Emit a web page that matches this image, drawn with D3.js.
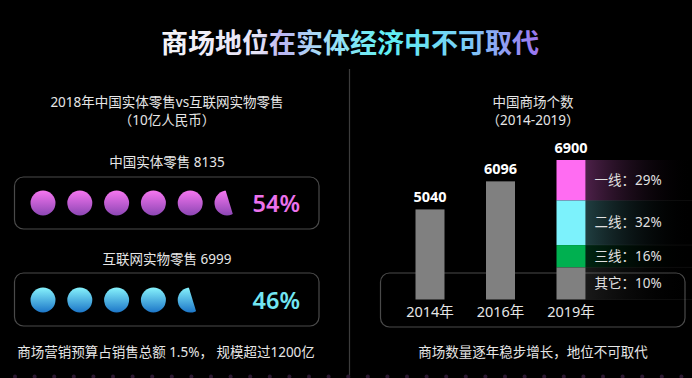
<!DOCTYPE html>
<html><head><meta charset="utf-8">
<script src="https://cdn.jsdelivr.net/npm/d3@7"></script>
<style>
html,body{margin:0;padding:0;background:#000;}
svg{display:block;}
text{font-family:"Noto Sans","Noto Sans CJK SC",sans-serif;}
</style></head>
<body><svg id="c" width="692" height="378"></svg>
<script>
// ---- data ----
const title = "商场地位在实体经济中不可取代";
const leftTitle = ["2018年中国实体零售vs互联网实物零售", "（10亿人民币）"];
const retailNames = ["中国实体零售", "互联网实物零售"];
const retailValues = [8135, 6999];
const retailPct = [54, 46];
const leftNote = "商场营销预算占销售总额 1.5%， 规模超过1200亿";

const rightTitle = ["中国商场个数", "（2014-2019）"];
const years = ["2014年", "2016年", "2019年"];
const mallCounts = [5040, 6096, 6900];
const tierNames = ["一线", "二线", "三线", "其它"];
const tierPct = [29, 32, 16, 10];
const rightNote = "商场数量逐年稳步增长，地位不可取代";

// ---- setup ----
const svg = d3.select("#c");
svg.append("rect").attr("width", 692).attr("height", 378).attr("fill", "#000");
const defs = svg.append("defs");

const tg = defs.append("linearGradient").attr("id", "tg")
  .attr("gradientUnits", "userSpaceOnUse").attr("x1", 162).attr("x2", 538).attr("y1", 0).attr("y2", 0);
[[0, "#f6f6f8"], [0.26, "#e6e2f6"], [0.32, "#bab4f2"], [0.42, "#a8dcf6"], [0.6, "#5ef0f2"], [0.8, "#78d0f6"], [0.9, "#90a4f4"], [1, "#9a74f0"]]
  .forEach(([o, c]) => tg.append("stop").attr("offset", o).attr("stop-color", c));

function vgrad(id, c1, c2) {
  const g = defs.append("linearGradient").attr("id", id).attr("x1", 0).attr("x2", 0).attr("y1", 0).attr("y2", 1);
  g.append("stop").attr("offset", 0).attr("stop-color", c1);
  g.append("stop").attr("offset", 1).attr("stop-color", c2);
}
vgrad("gp", "#f676f0", "#8c46b4");
vgrad("gc", "#86f2fc", "#1c76c8");

// title
svg.append("text").attr("x", 350).attr("y", 53).attr("text-anchor", "middle")
  .attr("font-size", 27).attr("font-weight", "bold").attr("fill", "url(#tg)").text(title);

// divider
svg.append("line").attr("x1", 349.5).attr("x2", 349.5).attr("y1", 69).attr("y2", 378)
  .attr("stroke", "#3c3c3c").attr("stroke-width", 1.2);

// bottom faint dots
const dotX = d3.range(15, 692, 19.6);
svg.append("g").selectAll("circle").data(dotX).join("circle")
  .attr("cx", d => d).attr("cy", 376.5).attr("r", 2).attr("fill", "#2a1830");

const txt = (x, y, s, size, fill) => svg.append("text").attr("x", x).attr("y", y)
  .attr("text-anchor", "middle").attr("font-size", size).attr("fill", fill).text(s);

// ---- left panel ----
txt(167, 107, leftTitle[0], 13.5, "#e6e6e6");
txt(167, 125, leftTitle[1], 13.5, "#e6e6e6");

const rowY = [203, 300];
const labelY = [167, 264];
const boxes = [[177, 229], [273, 326]];
const grads = ["url(#gp)", "url(#gc)"];
const pctColors = ["#ec72ec", "#72e6f2"];
const cx = d3.scaleLinear().domain([0, 5]).range([43, 227]);
const r = 12.5;

function chordOffset(f) {
  let lo = -1, hi = 1;
  for (let i = 0; i < 40; i++) {
    const m = (lo + hi) / 2;
    const a = 1 - (Math.acos(m) - m * Math.sqrt(1 - m * m)) / Math.PI;
    if (a < f) lo = m; else hi = m;
  }
  return (lo + hi) / 2 * r;
}

retailNames.forEach((name, i) => {
  txt(167, labelY[i], name + " " + retailValues[i], 13.5, "#e6e6e6");
  svg.append("rect").attr("x", 14.5).attr("y", boxes[i][0]).attr("width", 304.5)
    .attr("height", boxes[i][1] - boxes[i][0]).attr("rx", 9)
    .attr("fill", "none").attr("stroke", "#4a4a4a").attr("stroke-width", 1.2);
  const units = retailPct[i] / 10;
  const full = Math.floor(units);
  const frac = units - full;
  const g = svg.append("g");
  g.selectAll("circle").data(d3.range(full)).join("circle")
    .attr("cx", d => cx(d)).attr("cy", rowY[i]).attr("r", r).attr("fill", grads[i]);
  if (frac > 0) {
    const x0 = cx(full), y0 = rowY[i];
    const d = chordOffset(Math.max(frac, 0.62));
    const cp = defs.append("clipPath").attr("id", "pc" + i);
    cp.append("rect").attr("x", x0 - r - 6).attr("y", y0 - r - 8)
      .attr("width", r + 6 + d).attr("height", 2 * r + 16)
      .attr("transform", `rotate(-17,${x0},${y0})`);
    g.append("circle").attr("cx", x0).attr("cy", y0).attr("r", r)
      .attr("fill", grads[i]).attr("clip-path", `url(#pc${i})`);
  }
  svg.append("text").attr("x", 300).attr("y", rowY[i] + 9).attr("text-anchor", "end")
    .attr("font-size", 23.5).attr("font-weight", 600).attr("fill", pctColors[i])
    .text(retailPct[i] + "%");
});
txt(166, 357, leftNote, 13.5, "#e6e6e6");

// ---- right panel ----
txt(533, 107, rightTitle[0], 13.5, "#e6e6e6");
txt(533, 125, rightTitle[1], 13.5, "#e6e6e6");

svg.append("rect").attr("x", 380.5).attr("y", 273).attr("width", 304.5).attr("height", 54)
  .attr("rx", 9).attr("fill", "none").attr("stroke", "#4a4a4a").attr("stroke-width", 1.2);

const x = d3.scalePoint().domain(years).range([430, 571]);
const y = d3.scaleLinear().domain([1650, 6900]).range([299.5, 160]);
const bw = 29;

const lastYear = years[years.length - 1];
const lastTop = y(mallCounts[mallCounts.length - 1]);
const ys = d3.scaleLinear().domain([0, 100]).range([lastTop, y.range()[0]]);
const tierColors = ["#ff6cf2", "#7cf2fc", "#00b050", "#808080"];
const rowTint = ["rgba(255,108,242,0.30)", "rgba(124,242,252,0.26)", "rgba(0,176,80,0.22)", "rgba(128,128,128,0.20)"];
let acc = 0;
const tiers = tierNames.map((n, i) => {
  const y0 = acc;
  const y1 = i === tierNames.length - 1 ? 100 : acc + tierPct[i];
  acc = y1;
  return { name: n, pct: tierPct[i], y0, y1, i };
});

tiers.forEach(t => {
  const gid = "rg" + t.i;
  const g = defs.append("linearGradient").attr("id", gid).attr("x1", 0).attr("x2", 1).attr("y1", 0).attr("y2", 0);
  g.append("stop").attr("offset", 0).attr("stop-color", rowTint[t.i]);
  g.append("stop").attr("offset", 1).attr("stop-color", "rgba(0,0,0,0)");
  svg.append("rect").attr("x", x(lastYear) + bw / 2).attr("y", ys(t.y0))
    .attr("width", 692 - (x(lastYear) + bw / 2)).attr("height", ys(t.y1) - ys(t.y0))
    .attr("fill", `url(#${gid})`);
  svg.append("line").attr("x1", x(lastYear) + bw / 2).attr("x2", 692)
    .attr("y1", ys(t.y1)).attr("y2", ys(t.y1)).attr("stroke", "rgba(255,255,255,0.05)");
});

svg.append("g").selectAll("rect").data(years.slice(0, -1)).join("rect")
  .attr("x", d => x(d) - bw / 2).attr("y", (d, i) => y(mallCounts[i]))
  .attr("width", bw).attr("height", (d, i) => y.range()[0] - y(mallCounts[i]))
  .attr("fill", "#808080");

svg.append("g").selectAll("rect").data(tiers).join("rect")
  .attr("x", x(lastYear) - bw / 2).attr("y", d => ys(d.y0))
  .attr("width", bw).attr("height", d => ys(d.y1) - ys(d.y0))
  .attr("fill", d => tierColors[d.i]);

svg.append("g").selectAll("text").data(tiers).join("text")
  .attr("x", x(lastYear) + bw / 2 + 9).attr("y", d => (ys(d.y0) + ys(d.y1)) / 2 + 4.5)
  .attr("font-size", 13.5).attr("fill", "#e0e0e0")
  .text(d => d.name + "：" + d.pct + "%");

svg.append("g").selectAll("text").data(years).join("text")
  .attr("x", d => x(d)).attr("y", (d, i) => y(mallCounts[i]) - 7)
  .attr("text-anchor", "middle")
  .attr("font-size", 14.5).attr("font-weight", "bold").attr("fill", "#ffffff")
  .text((d, i) => mallCounts[i]);

svg.append("g").selectAll("text").data(years).join("text")
  .attr("x", d => x(d)).attr("y", 317).attr("text-anchor", "middle")
  .attr("font-size", 14.5).attr("fill", "#e6e6e6").text(d => d);

txt(533, 357, rightNote, 13.5, "#e6e6e6");
</script>
</body></html>
